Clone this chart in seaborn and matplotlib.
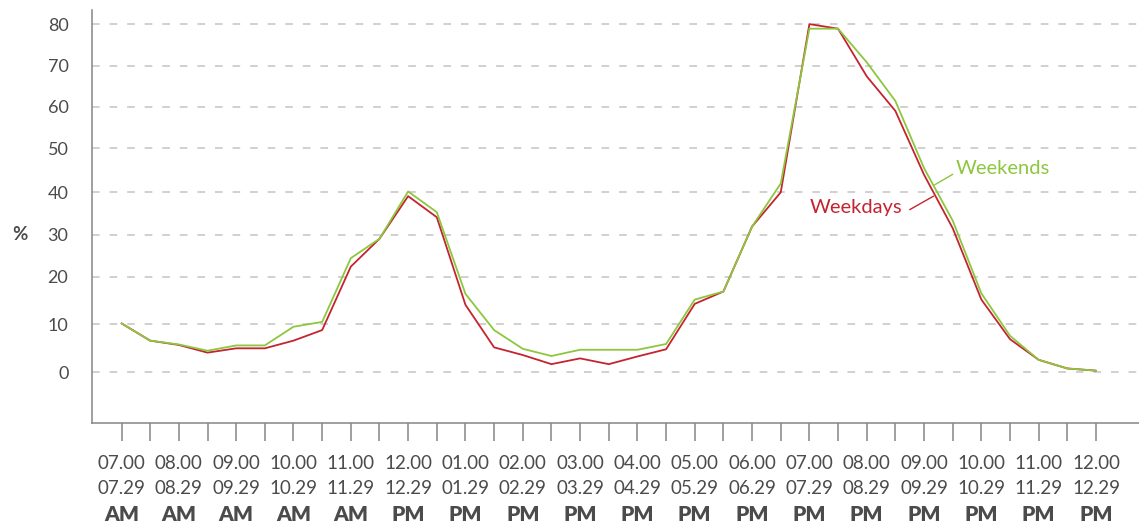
import numpy as np
import pandas as pd
import matplotlib
matplotlib.use("Agg")
import matplotlib.pyplot as plt
import matplotlib.transforms as mtransforms
import seaborn as sns

# ---------------- data ----------------
slot_start = ["07.00", "08.00", "09.00", "10.00", "11.00", "12.00", "01.00", "02.00", "03.00",
              "04.00", "05.00", "06.00", "07.00", "08.00", "09.00", "10.00", "11.00", "12.00"]
slot_end = ["07.29", "08.29", "09.29", "10.29", "11.29", "12.29", "01.29", "02.29", "03.29",
            "04.29", "05.29", "06.29", "07.29", "08.29", "09.29", "10.29", "11.29", "12.29"]
meridiem = ["AM", "AM", "AM", "AM", "AM", "PM", "PM", "PM", "PM",
            "PM", "PM", "PM", "PM", "PM", "PM", "PM", "PM", "PM"]

weekdays = [10.2, 6.6, 5.7, 4.1, 5.0, 5.0, 6.6, 8.8, 22.4, 29.0, 39.1, 34.1, 14.1, 5.2, 3.6,
            1.7, 2.9, 1.7, 3.3, 4.8, 14.3, 16.9, 31.9, 40.0, 80.0, 78.9, 67.4, 59.0, 44.0,
            31.5, 15.2, 6.9, 2.6, 0.8, 0.35]
weekends = [10.2, 6.6, 5.8, 4.5, 5.6, 5.6, 9.5, 10.5, 24.4, 29.0, 40.2, 35.3, 16.4, 8.8, 4.9,
            3.4, 4.7, 4.7, 4.7, 5.9, 15.2, 16.9, 31.9, 42.0, 78.9, 78.9, 70.8, 61.4, 45.5,
            33.3, 16.5, 7.6, 2.6, 0.8, 0.35]

y_ticks = [0, 10, 20, 30, 40, 50, 60, 70, 80]
series_names = ["Weekdays", "Weekends"]

# ---------------- style ----------------
RED = "#c4242f"
GREEN = "#8dc63f"
TEXT = "#4b4b4b"
AXIS = "#858585"
GRID = "#c4c4c4"

sns.set_theme(style="white")
plt.rcParams["font.family"] = ["Lato", "DejaVu Sans"]

n = len(weekdays)
slot = np.arange(n)
df = pd.DataFrame({
    "slot": np.concatenate([slot, slot]),
    "share": weekdays + weekends,
    "series": [series_names[0]] * n + [series_names[1]] * n,
})

fig = plt.figure(figsize=(11.39, 5.26), dpi=100)
ax = fig.add_axes([92 / 1139, 1 - 422.7 / 526, 1 - 92 / 1139, (422.7 - 10) / 526])

# the reference's value axis is slightly uneven: piecewise-linear scale through its gridlines
H = np.array([0, 48, 95.6, 137.8, 180, 224.1, 265.6, 306.8, 348.3])
G = np.array(y_ticks, dtype=float)
s0 = (H[1] - H[0]) / (G[1] - G[0])
s1 = (H[-1] - H[-2]) / (G[-1] - G[-2])


def fwd(v):
    v = np.asarray(v, dtype=float)
    out = np.interp(v, G, H)
    out = np.where(v < G[0], H[0] + (v - G[0]) * s0, out)
    out = np.where(v > G[-1], H[-1] + (v - G[-1]) * s1, out)
    return out


def inv(h):
    h = np.asarray(h, dtype=float)
    out = np.interp(h, H, G)
    out = np.where(h < H[0], G[0] + (h - H[0]) / s0, out)
    out = np.where(h > H[-1], G[-1] + (h - H[-1]) / s1, out)
    return out


ax.set_yscale("function", functions=(fwd, inv))

sns.lineplot(data=df, x="slot", y="share", hue="series", hue_order=series_names,
             palette=[RED, GREEN], linewidth=1.3, ax=ax, legend=False, sort=False)

ax.set_xlim(-1.03, 35.5)
ax.set_ylim(-10.5, 83.4)

# gridlines
ax.set_yticks(y_ticks)
ax.set_yticklabels([str(t) for t in y_ticks])
ax.yaxis.grid(True, color=GRID, linestyle=(0, (5, 6.5)), linewidth=1.1)
ax.xaxis.grid(False)
ax.tick_params(axis="y", length=0, pad=17, labelsize=13, labelcolor=TEXT)

# x ticks every half hour, labels every hour
ax.set_xticks(slot)
labels = []
for i in slot:
    if i % 2 == 0:
        k = i // 2
        labels.append(f"{slot_start[k]}\n{slot_end[k]}")
    else:
        labels.append("")
ax.set_xticklabels(labels, linespacing=1.62)
ax.tick_params(axis="x", length=13, width=1.1, color=AXIS, direction="out",
               pad=10, labelsize=13.5, labelcolor=TEXT, bottom=True)

trans = mtransforms.blended_transform_factory(ax.transData, ax.transAxes)
for k, m in enumerate(meridiem):
    ax.text(2 * k, -0.222, m, transform=trans, ha="center", va="center",
            fontsize=15, fontweight="heavy", color=TEXT)

# "%" axis label
ytrans = mtransforms.blended_transform_factory(ax.transAxes, ax.transData)
ax.text(-0.069, 30, "%", transform=ytrans, ha="center", va="center",
        fontsize=13.5, fontweight="bold", color=TEXT)

# spines
sns.despine(ax=ax, top=True, right=True)
for side in ["left", "bottom"]:
    ax.spines[side].set_color(AXIS)
    ax.spines[side].set_linewidth(1.1)

ax.set_xlabel("")
ax.set_ylabel("")

# series labels with leader lines
ax.plot([28.37, 29.0], [41.7, 44.1], color=GREEN, linewidth=1.0)
ax.text(29.12, 45.3, series_names[1], color=GREEN, fontsize=14.5, ha="left", va="center")
ax.plot([27.5, 28.33], [35.9, 39.1], color=RED, linewidth=1.0)
ax.text(27.24, 36.5, series_names[0], color=RED, fontsize=14.5, ha="right", va="center")

fig.savefig("out.png", dpi=100)
